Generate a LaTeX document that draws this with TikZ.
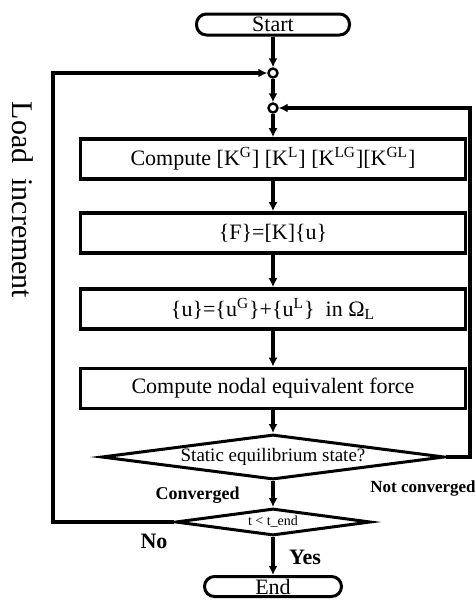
\documentclass[tikz,border=0pt]{standalone}
\usepackage{fontspec}
\setmainfont{Liberation Serif}
\usetikzlibrary{shapes.geometric,arrows.meta}

\tikzset{
  process/.style={draw, line width=1.8pt, minimum width=192.5pt, minimum height=20pt,
    inner sep=1pt, font=\fontsize{11}{13}\selectfont},
  terminal/.style={draw, line width=1.5pt, rounded corners=5pt, inner sep=1pt,
    font=\fontsize{11}{13}\selectfont},
  decision/.style={draw, diamond, line width=1.5pt, inner sep=0pt, aspect=7},
  junction/.style={draw, circle, line width=1.2pt, minimum size=4.5pt, inner sep=0pt},
  flow/.style={line width=1.6pt, -{Latex[length=4.5pt,width=4.5pt]}},
  tag/.style={font=\fontsize{9}{10}\selectfont\bfseries, inner sep=0pt}
}

\begin{document}
\begin{tikzpicture}[x=0.5pt,y=-0.5pt]
\useasboundingbox (0,0) rectangle (475,606);

% start and the two merge points
\node[terminal, minimum width=76.5pt, minimum height=10.5pt] (start) at (273,24.5) {Start};
\node[junction] (c1) at (273,73) {};
\node[junction] (c2) at (273,108) {};

% process steps
\node[process] (kmat) at (273,159) {Compute [K\textsuperscript{G}] [K\textsuperscript{L}] [K\textsuperscript{LG}][K\textsuperscript{GL}]};
\node[process] (solve) at (273,233) {\{F\}=[K]\{u\}};
\node[process] (disp) at (273,309) {\{u\}=\{u\textsuperscript{G}\}+\{u\textsuperscript{L}\} \ in Ω\textsubscript{L}};
\node[process] (force) at (273,388.5) {Compute nodal equivalent force};

% checks and end
\node[decision, minimum width=171.5pt, minimum height=22.5pt,
  font=\fontsize{9.5}{11}\selectfont] (equil) at (273,457) {Static equilibrium state?};
\node[decision, minimum width=97.5pt, minimum height=13.5pt,
  font=\fontsize{7}{8}\selectfont] (tend) at (273,522) {t < t\textunderscore end};
\node[terminal, minimum width=68.5pt, minimum height=10pt] (end) at (273,586.5) {End};

% corners of the two loops
\coordinate (backleft) at (53,522);
\coordinate (backright) at (470,457);

\draw[flow] (start) -- (c1);
\draw[flow] (c1) -- (c2);
\draw[flow] (c2) -- (kmat);
\draw[flow] (kmat) -- (solve);
\draw[flow] (solve) -- (disp);
\draw[flow] (disp) -- (force);
\draw[flow] (force) -- (equil);
\draw[flow] (equil) -- (tend);
\draw[flow] (tend) -- (end);
\draw[flow] (equil.east) -- (backright) |- (c2);
\draw[flow] (tend.west) -- (backleft) |- (c1);

% labels
\node[tag, anchor=east] (convlbl) at (240,495) {Converged};
\node[tag, anchor=east, font=\fontsize{8.5}{10}\selectfont\bfseries] (notconv) at (476,488) {Not converged};
\node[tag, font=\fontsize{11}{13}\selectfont\bfseries] (nolbl) at (154,541) {No};
\node[tag, font=\fontsize{11}{13}\selectfont\bfseries] (yeslbl) at (305,557) {Yes};
\node[rotate=-90, font=\fontsize{15}{17}\selectfont] (loadlbl) at (23,200) {Load\ \ increment};
\end{tikzpicture}
\end{document}
